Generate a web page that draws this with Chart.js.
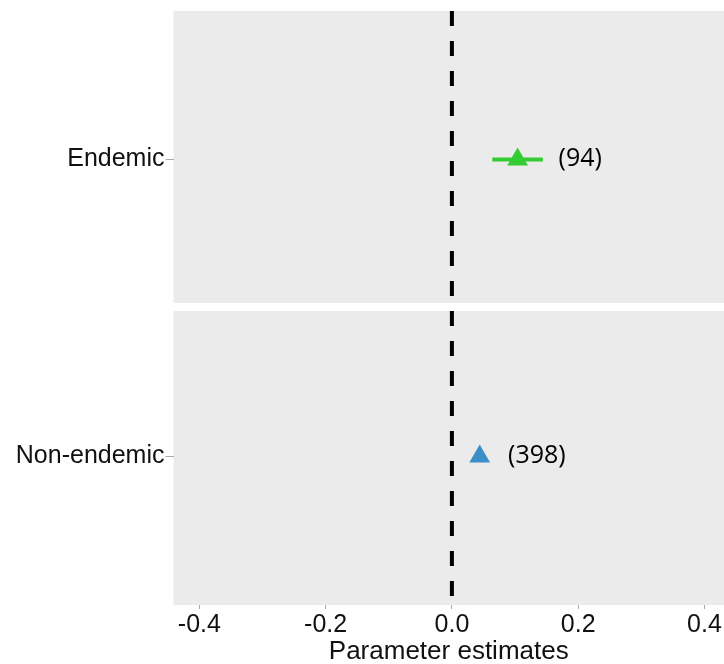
<!DOCTYPE html>
<html>
<head>
<meta charset="utf-8">
<script src="https://cdn.jsdelivr.net/npm/chart.js"></script>
<style>
  html, body { margin: 0; padding: 0; background: #fff; }
  canvas { display: block; }
</style>
</head>
<body>
<canvas id="grafico" width="724" height="664"></canvas>
<script>
// datos
const grupos = ['Non-endemic', 'Endemic']
const grupoY = [0.5, 1.5]
const estimados = [0.044, 0.104]
const inferior = [0.036, 0.064]
const superior = [0.052, 0.144]
const conteos = ['(398)', '(94)']
const etiquetaX = [0.089, 0.169]
const colores = ['#3b8fc9', '#33cc33']
const xTicks = [-0.4, -0.2, 0.0, 0.2, 0.4]

// fondo gris de cada panel, con hueco blanco entre ellos
const paneles = {
  id: 'paneles',
  beforeDraw(chart) {
    const { ctx, chartArea, scales } = chart
    const y = scales.y
    const medio = y.getPixelForValue(1)
    ctx.save()
    ctx.fillStyle = '#ebebeb'
    ctx.fillRect(chartArea.left, chartArea.top, chartArea.right - chartArea.left, medio - 5 - chartArea.top)
    ctx.fillRect(chartArea.left, medio + 3, chartArea.right - chartArea.left, chartArea.bottom - medio - 3)
    ctx.restore()
  },
  beforeDatasetsDraw(chart) {
    const { ctx, chartArea, scales } = chart
    const x0 = scales.x.getPixelForValue(0)
    const medio = scales.y.getPixelForValue(1)
    ctx.save()
    ctx.strokeStyle = '#000'
    ctx.lineWidth = 4
    ctx.setLineDash([15, 15])
    ;[[chartArea.top, medio - 5], [medio + 3, chartArea.bottom]].forEach(([a, b]) => {
      ctx.beginPath()
      ctx.moveTo(x0, a)
      ctx.lineTo(x0, b)
      ctx.stroke()
    })
    ctx.restore()
  },
  afterDatasetsDraw(chart) {
    const { ctx, scales } = chart
    ctx.save()
    ctx.fillStyle = '#000'
    ctx.font = '25px "Open Sans"'
    ctx.textBaseline = 'middle'
    ctx.textAlign = 'left'
    conteos.forEach((txt, i) => {
      ctx.fillText(txt, scales.x.getPixelForValue(etiquetaX[i]), scales.y.getPixelForValue(grupoY[i]) - 1)
    })
    ctx.restore()
  }
}

const barras = grupos.map((g, i) => ({
  type: 'line',
  data: [{ x: inferior[i], y: grupoY[i] }, { x: superior[i], y: grupoY[i] }],
  borderColor: colores[i],
  borderWidth: 4,
  pointRadius: 0,
  fill: false
}))

const puntos = grupos.map((g, i) => ({
  type: 'scatter',
  label: g,
  data: [{ x: estimados[i], y: grupoY[i] }],
  backgroundColor: colores[i],
  borderColor: colores[i],
  pointStyle: 'triangle',
  pointRadius: 12,
  pointBorderWidth: 0
}))

const config = {
  type: 'scatter',
  data: { datasets: [...barras, ...puntos] },
  options: {
    responsive: false,
    animation: false,
    layout: { autoPadding: false, padding: { top: 11, right: 0, left: 0, bottom: 0 } },
    plugins: { legend: { display: false }, tooltip: { enabled: false } },
    scales: {
      x: {
        type: 'linear',
        min: -0.441,
        max: 0.431,
        afterBuildTicks: scale => { scale.ticks = xTicks.map(v => ({ value: v })) },
        afterFit: scale => {
          scale.height = 59
          scale.paddingLeft = 0
          scale.paddingRight = 0
        },
        border: { display: false },
        grid: { drawOnChartArea: false, drawTicks: true, tickLength: 4, color: '#aaa', lineWidth: 1 },
        ticks: {
          color: '#111',
          font: { family: '"Liberation Sans", Arial', size: 25 },
          padding: 1,
          callback: v => v.toFixed(1)
        },
        title: {
          display: true,
          text: 'Parameter estimates',
          color: '#111',
          font: { family: '"Liberation Sans", Arial', size: 26, lineHeight: 1 },
          padding: { top: 0, bottom: -1 }
        }
      },
      y: {
        type: 'linear',
        min: 0,
        max: 2,
        afterBuildTicks: scale => { scale.ticks = grupoY.map(v => ({ value: v })) },
        afterFit: scale => {
          scale.width = 173.5
          scale.paddingTop = 0
          scale.paddingBottom = 0
        },
        border: { display: false },
        grid: { drawOnChartArea: false, drawTicks: true, tickLength: 8, color: '#aaa', lineWidth: 1 },
        ticks: {
          color: '#111',
          font: { family: '"Liberation Sans", Arial', size: 25 },
          padding: 1,
          callback: v => grupos[grupoY.indexOf(v)]
        }
      }
    }
  },
  plugins: [paneles]
}

document.addEventListener('DOMContentLoaded', () => {
  new Chart(document.getElementById('grafico'), config)
})
</script>
</body>
</html>
